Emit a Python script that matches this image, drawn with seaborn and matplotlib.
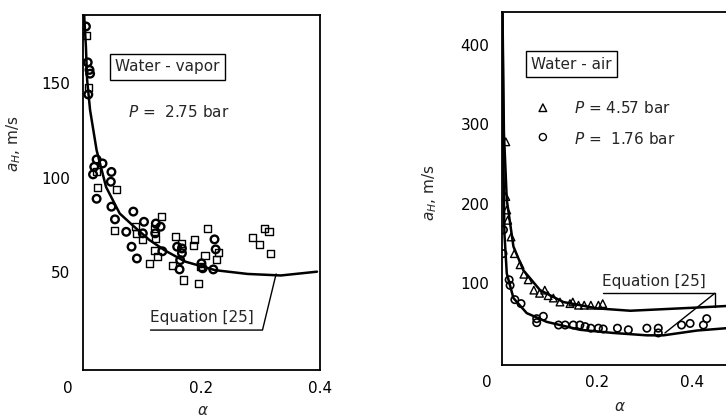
import matplotlib
matplotlib.use("Agg")
import matplotlib.pyplot as plt
import matplotlib.transforms as mtransforms
import seaborn as sns

# ---- water-vapor panel (P = 2.75 bar) ----
vap_circ_alpha = [0.005, 0.008, 0.011, 0.012, 0.009, 0.023, 0.019, 0.017, 0.033, 0.023,
                  0.048, 0.047, 0.048, 0.054, 0.073, 0.085, 0.082, 0.091, 0.103, 0.101,
                  0.122, 0.123, 0.131, 0.134, 0.159, 0.167, 0.164, 0.163, 0.167, 0.200,
                  0.202, 0.222, 0.224, 0.220]
vap_circ_speed = [180, 161, 157, 155, 144, 109.6, 105.7, 101.7, 107.5, 88.8,
                  103, 97.8, 84.6, 77.9, 71.3, 82, 63.4, 57.2, 76.6, 70.5,
                  70.5, 75.7, 74, 61, 63.4, 62.5, 56.3, 51.4, 60, 54.6,
                  52, 67.3, 62, 51.4]
vap_sq_alpha = [0.006, 0.009, 0.023, 0.024, 0.056, 0.053, 0.089, 0.090, 0.100, 0.120,
                0.122, 0.121, 0.133, 0.113, 0.126, 0.156, 0.151, 0.167, 0.170, 0.188,
                0.195, 0.186, 0.199, 0.206, 0.210, 0.226, 0.228, 0.286, 0.298, 0.306,
                0.314, 0.316]
vap_sq_speed = [175, 147.7, 103, 95, 93.7, 72, 74, 70.5, 67, 73,
                67.8, 61.3, 79.6, 54.6, 58, 68.7, 53.7, 65.2, 45.8, 67,
                43.8, 64, 52.8, 59, 73, 56.7, 60.4, 68.3, 64.8, 73,
                71.7, 60]
vap_eq_alpha = [0.002, 0.005, 0.007, 0.012, 0.023, 0.039, 0.062, 0.084, 0.112, 0.139,
                0.173, 0.223, 0.278, 0.334, 0.395]
vap_eq_speed = [186, 169, 151.6, 135.7, 114.5, 95, 81, 74.7, 67, 61.3,
                55.5, 51, 49, 48.2, 50.2]

# ---- water-air panel ----
air_hi_alpha = [0.008, 0.008, 0.010, 0.012, 0.019, 0.026, 0.038, 0.046, 0.055, 0.067,
                0.079, 0.090, 0.097, 0.108, 0.122, 0.143, 0.149, 0.161, 0.173, 0.187,
                0.203, 0.212]
air_hi_speed = [278, 209, 192, 179, 158, 137, 123, 111, 104, 91,
                87, 91, 84, 81, 76, 74, 76, 72, 72, 72,
                72, 74]
air_lo_alpha = [0.003, 0.002, 0.015, 0.017, 0.027, 0.040, 0.073, 0.073, 0.087, 0.119,
                0.133, 0.150, 0.164, 0.175, 0.187, 0.203, 0.213, 0.243, 0.266, 0.305,
                0.329, 0.329, 0.378, 0.396, 0.424, 0.431]
air_lo_speed = [167, 137, 104, 97, 79, 74, 55, 50, 58, 47,
                47, 47, 47, 45, 43, 43, 42, 43, 41, 43,
                43, 37, 47, 49, 47, 55]
air_eq_hi_alpha = [0.001, 0.004, 0.010, 0.024, 0.045, 0.080, 0.129, 0.200, 0.270, 0.340,
                   0.410, 0.473]
air_eq_hi_speed = [440, 289, 205, 146, 116, 91, 76, 68, 65, 67,
                   69, 71]
air_eq_lo_alpha = [0.001, 0.003, 0.005, 0.010, 0.024, 0.052, 0.094, 0.164, 0.234, 0.305,
                   0.340, 0.410, 0.473]
air_eq_lo_speed = [440, 250, 163, 112, 81, 62, 51, 41, 37, 34,
                   34, 40, 43]

sns.set_style("white")
plt.rcParams["font.family"] = ["DejaVu Sans"]
plt.rcParams["mathtext.fontset"] = "dejavusans"

fig = plt.figure(figsize=(7.26, 4.19), dpi=100)
ax1 = fig.add_axes([0.1143, 0.1169, 0.3264, 0.847])
ax2 = fig.add_axes([0.6915, 0.1289, 0.3085, 0.8425])

fs = 11

# left panel
sns.lineplot(x=vap_eq_alpha, y=vap_eq_speed, color="black", linewidth=1.8, ax=ax1)
sns.scatterplot(x=vap_sq_alpha, y=vap_sq_speed, marker="s", s=26, facecolor="none",
                edgecolor="black", linewidth=1.0, ax=ax1, zorder=3)
sns.scatterplot(x=vap_circ_alpha, y=vap_circ_speed, marker="o", s=30, facecolor="none",
                edgecolor="black", linewidth=1.7, ax=ax1, zorder=4)
ax1.set_xlim(0, 0.395)
ax1.set_ylim(-1.85, 186)
ax1.set_yticks([50, 100, 150])
ax1.set_xticks([0, 0.2, 0.4])
ax1.set_xticklabels(["0", "0.2", "0.4"])
ax1.text(0.135, 0.854, "Water - vapor", transform=ax1.transAxes, fontsize=fs, va="center",
         bbox=dict(boxstyle="square,pad=0.35", fc="white", ec="black", lw=1.0))
ax1.text(0.19, 0.727, r"$P$ =  2.75 bar", transform=ax1.transAxes, fontsize=fs, va="center")
ax1.text(0.113, 26, "Equation [25]", fontsize=fs, va="center")
ax1.plot([0.114, 0.303, 0.326], [19.3, 19.3, 49], color="black", lw=1.0)
ax1.set_xlabel(r"$\alpha$", fontsize=fs)
ax1.set_ylabel(r"$a_H$, m/s", fontsize=fs)
ax1.xaxis.set_label_coords(0.506, -0.093)
ax1.yaxis.set_label_coords(-0.255, 0.638)

# right panel
sns.lineplot(x=air_eq_hi_alpha, y=air_eq_hi_speed, color="black", linewidth=1.8, ax=ax2)
sns.lineplot(x=air_eq_lo_alpha, y=air_eq_lo_speed, color="black", linewidth=1.8, ax=ax2)
sns.scatterplot(x=air_hi_alpha, y=air_hi_speed, marker="^", s=30, facecolor="none",
                edgecolor="black", linewidth=1.0, ax=ax2, zorder=3)
sns.scatterplot(x=air_lo_alpha, y=air_lo_speed, marker="o", s=28, facecolor="none",
                edgecolor="black", linewidth=1.2, ax=ax2, zorder=3)
ax2.set_xlim(0, 0.4716)
ax2.set_ylim(-3.4, 441.7)
ax2.set_yticks([100, 200, 300, 400])
ax2.set_xticks([0, 0.2, 0.4])
ax2.set_xticklabels(["0", "0.2", "0.4"])
ax2.text(0.061, 376, "Water - air", fontsize=fs, va="center",
         bbox=dict(boxstyle="square,pad=0.35", fc="white", ec="black", lw=1.0))
ax2.scatter([0.086], [321], marker="^", s=30, facecolor="none", edgecolor="black", lw=1.0)
ax2.scatter([0.086], [284], marker="o", s=26, facecolor="none", edgecolor="black", lw=1.0)
ax2.text(0.152, 321, r"$P$ = 4.57 bar", fontsize=fs, va="center")
ax2.text(0.152, 282, r"$P$ =  1.76 bar", fontsize=fs, va="center")
ax2.text(0.21, 102, "Equation [25]", fontsize=fs, va="center")
ax2.plot([0.212, 0.448, 0.448], [87, 87, 70], color="black", lw=1.0)
ax2.plot([0.448, 0.343], [87, 37], color="black", lw=1.0)
ax2.set_xlabel(r"$\alpha$", fontsize=fs)
ax2.set_ylabel(r"$a_H$, m/s", fontsize=fs)
ax2.xaxis.set_label_coords(0.527, -0.096)
ax2.yaxis.set_label_coords(-0.28, 0.487)
ax2.spines["right"].set_visible(False)

shift = mtransforms.ScaledTranslation(-0.15, 0, fig.dpi_scale_trans)
for ax, pad in ((ax1, 8), (ax2, 7)):
    for sp in ax.spines.values():
        sp.set_color("black")
        sp.set_linewidth(1.3)
    ax.tick_params(axis="both", direction="in", length=4, width=1.0, colors="black",
                   labelsize=fs)
    ax.tick_params(axis="x", pad=pad)
    ax.tick_params(axis="y", pad=9)
    lab0 = ax.get_xticklabels()[0]
    lab0.set_transform(lab0.get_transform() + shift)

fig.savefig("out.png", dpi=100)
